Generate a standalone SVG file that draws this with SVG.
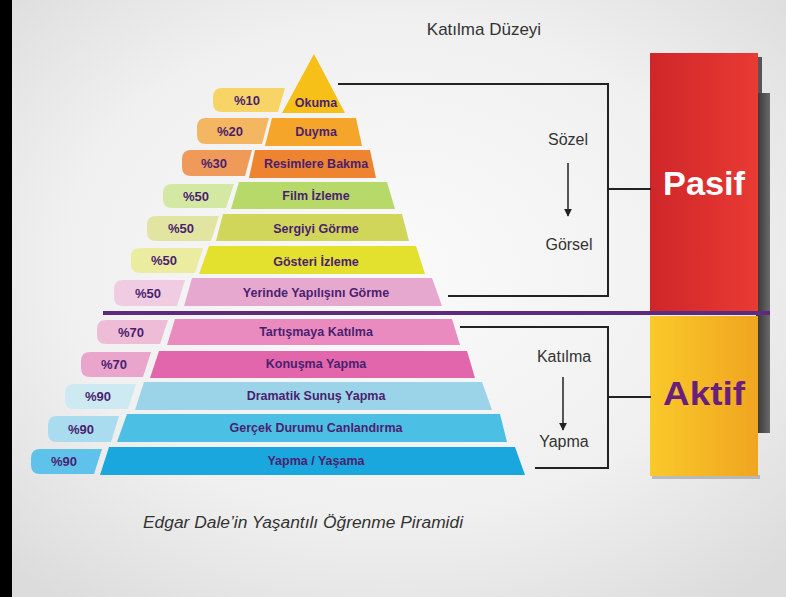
<svg xmlns="http://www.w3.org/2000/svg" width="786" height="597" viewBox="0 0 786 597">
<defs>
  <radialGradient id="bg" cx="50%" cy="45%" r="70%">
    <stop offset="0" stop-color="#fafafa"/>
    <stop offset="0.6" stop-color="#f0f0f0"/>
    <stop offset="1" stop-color="#dcdcdc"/>
  </radialGradient>
  <linearGradient id="red" x1="0" y1="0" x2="1" y2="0">
    <stop offset="0" stop-color="#cf2629"/>
    <stop offset="1" stop-color="#e93a33"/>
  </linearGradient>
  <linearGradient id="yel" x1="0" y1="0" x2="1" y2="0">
    <stop offset="0" stop-color="#fac92b"/>
    <stop offset="1" stop-color="#f0a51f"/>
  </linearGradient>
  <linearGradient id="shadow" x1="0" y1="0" x2="1" y2="0">
    <stop offset="0" stop-color="#333"/>
    <stop offset="1" stop-color="#6a6a6a"/>
  </linearGradient>
  <marker id="arr" viewBox="0 0 10 10" refX="9" refY="5" markerWidth="8" markerHeight="8" markerUnits="userSpaceOnUse" orient="auto">
    <path d="M0,0 L10,5 L0,10 Z" fill="#222"/>
  </marker>
</defs>
<style>
  .band { font-family: "Liberation Sans", Arial, sans-serif; font-weight: bold; font-size: 12.5px; fill: #4b1f6f; text-anchor: middle; }
  .pct { font-family: "Liberation Sans", Arial, sans-serif; font-weight: bold; font-size: 13px; fill: #4b1f6f; text-anchor: middle; }
  .side { font-family: "Liberation Sans", Arial, sans-serif; font-size: 16px; fill: #333; text-anchor: middle; }
  .line { fill: none; stroke: #222; stroke-width: 2; }
  .big { font-family: "Liberation Sans", Arial, sans-serif; font-weight: bold; font-size: 34px; text-anchor: middle; }
</style>

<rect x="0" y="0" width="786" height="597" fill="url(#bg)"/>
<rect x="0" y="0" width="12" height="597" fill="#000"/>

<text x="484" y="35" font-family="Liberation Sans, Arial, sans-serif" font-size="17" fill="#333" text-anchor="middle">Katılma Düzeyi</text>

<!-- side bars -->
<g id="bars">
  <rect x="752" y="57" width="10" height="40" fill="#555"/>
  <rect x="756" y="93" width="14" height="340" fill="url(#shadow)"/>
  <rect x="652" y="475" width="108" height="4" fill="#999" opacity="0.6"/>
  <g id="pasif">
    <rect x="650" y="53" width="108" height="258" fill="url(#red)"/>
    <text class="big" x="704" y="195" fill="#fff" textLength="82" lengthAdjust="spacingAndGlyphs">Pasif</text>
  </g>
  <g id="aktif">
    <rect x="650" y="316" width="108" height="160" fill="url(#yel)"/>
    <text class="big" x="704" y="405" fill="#6a1f7c" textLength="82" lengthAdjust="spacingAndGlyphs">Aktif</text>
  </g>
</g>

<!-- pyramid bands -->
<g id="okuma"><polygon points="314,54 345,113 282,113" fill="#f6c019"/><text class="band" x="316" y="107">Okuma</text></g>
<g id="duyma"><polygon points="272,118 356,118 362,146 265,146" fill="#f5a52a"/><text class="band" x="316" y="136">Duyma</text></g>
<g id="resimlere"><polygon points="255,150 370,150 376,178 249,178" fill="#ee8430"/><text class="band" x="316" y="168">Resimlere Bakma</text></g>
<g id="film"><polygon points="239,182 387,182 395,209 231,209" fill="#b6d96a"/><text class="band" x="316" y="200">Film İzleme</text></g>
<g id="sergiyi"><polygon points="223,214 402,214 409,241 216,241" fill="#cfd65a"/><text class="band" x="316" y="233">Sergiyi Görme</text></g>
<g id="gosteri"><polygon points="209,246 416,246 425,274 199,274" fill="#e3e02e"/><text class="band" x="316" y="266">Gösteri İzleme</text></g>
<g id="yerinde"><polygon points="192,278 432,278 442,306 184,306" fill="#e7a8d0"/><text class="band" x="316" y="297">Yerinde Yapılışını Görme</text></g>
<g id="tartisma"><polygon points="175,319 452,319 460,345 167,345" fill="#e98bbf"/><text class="band" x="316" y="336">Tartışmaya Katılma</text></g>
<g id="konusma"><polygon points="159,351 467,351 475,378 150,378" fill="#e266ab"/><text class="band" x="316" y="368">Konuşma Yapma</text></g>
<g id="dramatik"><polygon points="144,382 482,382 492,410 135,410" fill="#9bd4e8"/><text class="band" x="316" y="400">Dramatik Sunuş Yapma</text></g>
<g id="gercek"><polygon points="127,414 500,414 507,442 117,442" fill="#4cbfe4"/><text class="band" x="316" y="432">Gerçek Durumu Canlandırma</text></g>
<g id="yapma"><polygon points="109,447 515,447 525,475 100,475" fill="#1aa7dd"/><text class="band" x="316" y="465">Yapma / Yaşama</text></g>

<!-- percentage tabs -->
<g id="p10"><path d="M222,88 H285 L278,112 H222 Q213,112 213,103 V97 Q213,88 222,88 Z" fill="#f7d465"/><text class="pct" x="247" y="105">%10</text></g>
<g id="p20"><path d="M206,118 H269 L262,144 H206 Q197,144 197,135 V127 Q197,118 206,118 Z" fill="#f5b661"/><text class="pct" x="230" y="136">%20</text></g>
<g id="p30"><path d="M191,150 H252 L245,176 H191 Q182,176 182,167 V159 Q182,150 191,150 Z" fill="#f09a5a"/><text class="pct" x="214" y="168">%30</text></g>
<g id="p50a"><path d="M172,184 H234 L226,208 H172 Q163,208 163,199 V193 Q163,184 172,184 Z" fill="#d3e9a3"/><text class="pct" x="196" y="201">%50</text></g>
<g id="p50b"><path d="M156,216 H219 L211,241 H156 Q147,241 147,232 V225 Q147,216 156,216 Z" fill="#e2e5a2"/><text class="pct" x="181" y="233">%50</text></g>
<g id="p50c"><path d="M140,248 H203 L195,273 H140 Q131,273 131,264 V257 Q131,248 140,248 Z" fill="#ebeca0"/><text class="pct" x="164" y="265">%50</text></g>
<g id="p50d"><path d="M123,280 H185 L177,306 H123 Q114,306 114,297 V289 Q114,280 123,280 Z" fill="#f0cce3"/><text class="pct" x="148" y="298">%50</text></g>
<g id="p70a"><path d="M106,320 H168 L160,344 H106 Q97,344 97,335 V329 Q97,320 106,320 Z" fill="#efbcd8"/><text class="pct" x="131" y="337">%70</text></g>
<g id="p70b"><path d="M90,352 H151 L143,377 H90 Q81,377 81,368 V361 Q81,352 90,352 Z" fill="#e9a5cb"/><text class="pct" x="114" y="369">%70</text></g>
<g id="p90a"><path d="M74,384 H136 L128,409 H74 Q65,409 65,400 V393 Q65,384 74,384 Z" fill="#cde9f2"/><text class="pct" x="98" y="401">%90</text></g>
<g id="p90b"><path d="M57,416 H119 L111,442 H57 Q48,442 48,433 V425 Q48,416 57,416 Z" fill="#a9dcef"/><text class="pct" x="81" y="434">%90</text></g>
<g id="p90c"><path d="M40,449 H102 L94,474 H40 Q31,474 31,465 V458 Q31,449 40,449 Z" fill="#5fc2ea"/><text class="pct" x="64" y="466">%90</text></g>

<!-- side labels -->
<g id="sozel"><text class="side" x="568" y="145">Sözel</text></g>
<g id="gorsel"><text class="side" x="569" y="250">Görsel</text></g>
<g id="katilma"><text class="side" x="564" y="362">Katılma</text></g>
<g id="yapmaLbl"><text class="side" x="564" y="447">Yapma</text></g>

<!-- connectors -->
<g id="connectors">
  <line x1="103" y1="313" x2="770" y2="313" stroke="#5e2a7e" stroke-width="4"/>
  <path class="line" d="M338,84 H608 V296 H448"/>
  <path class="line" d="M608,189 H651"/>
  <path class="line" d="M460,327 H608 V468 H535"/>
  <path class="line" d="M608,397 H651"/>
  <line x1="568" y1="163" x2="568" y2="216" stroke="#222" stroke-width="1.5" marker-end="url(#arr)"/>
  <line x1="563" y1="377" x2="563" y2="430" stroke="#222" stroke-width="1.5" marker-end="url(#arr)"/>
</g>

<text x="303" y="528" font-family="Liberation Sans, Arial, sans-serif" font-style="italic" font-size="16" fill="#333" text-anchor="middle" textLength="320" lengthAdjust="spacingAndGlyphs">Edgar Dale’in Yaşantılı Öğrenme Piramidi</text>
</svg>
